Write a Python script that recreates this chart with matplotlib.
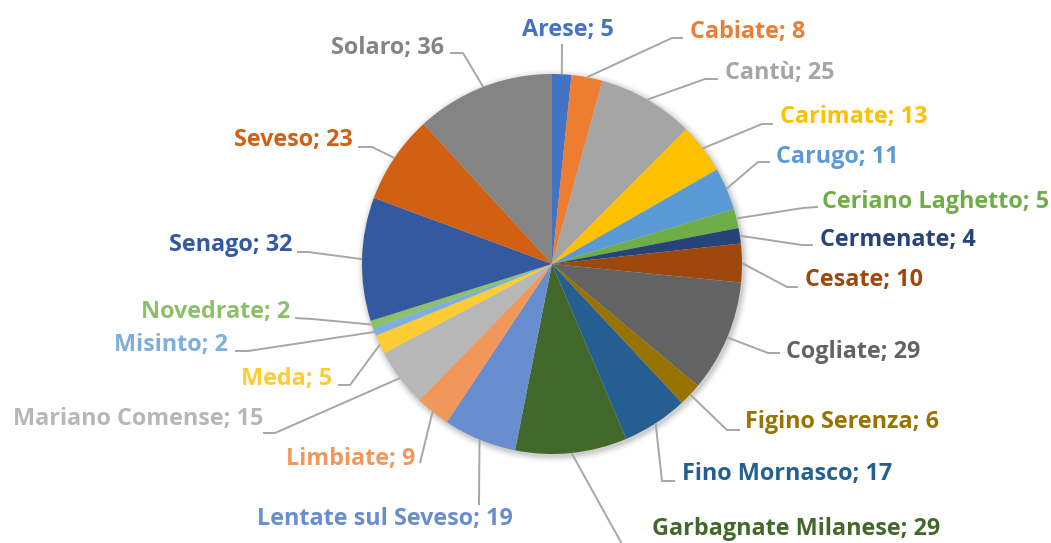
import matplotlib
matplotlib.use("Agg")
import matplotlib.pyplot as plt
import numpy as np

# ---- data ----
comuni = ["Arese", "Cabiate", "Cantù", "Carimate", "Carugo", "Ceriano Laghetto",
          "Cermenate", "Cesate", "Cogliate", "Figino Serenza", "Fino Mornasco",
          "Garbagnate Milanese", "Lentate sul Seveso", "Limbiate", "Mariano Comense",
          "Meda", "Misinto", "Novedrate", "Senago", "Seveso", "Solaro"]
valori = [5, 8, 25, 13, 11, 5, 4, 10, 29, 6, 17, 29, 19, 9, 15, 5, 2, 2, 32, 23, 36]
colori = ["#4472C4", "#ED7D31", "#A5A5A5", "#FFC000", "#5B9BD5", "#70AD47",
          "#264478", "#9E480E", "#636363", "#997300", "#255E91", "#43682B",
          "#698ED0", "#F1975A", "#B7B7B7", "#FFCC33", "#7CAFDD", "#8CC168",
          "#335AA1", "#D26012", "#848484"]

# ---- layout (pixel coords, y down) ----
W, H = 1051, 543
CX, CY, R = 552, 264, 190
TEXT_DY = 2
# text anchor (x, y, ha) and leader-line points from text toward the pie
label_layout = [
    (568, 28, "center", [(562, 44)]),
    (690, 30, "left", [(683, 38), (672, 38)]),
    (725, 71, "left", [(718, 79), (705, 79)]),
    (780, 115, "left", [(773, 124), (762, 124)]),
    (776, 155, "left", [(770, 162), (758, 162)]),
    (822, 200, "left", [(818, 207), (803, 208)]),
    (820, 238, "left", [(813, 245), (802, 245)]),
    (805, 278, "left", [(798, 287), (787, 287)]),
    (786, 350, "left", [(780, 353), (768, 353)]),
    (745, 420, "left", [(740, 430), (727, 430)]),
    (682, 472, "left", [(675, 481), (662, 481)]),
    (652, 527, "left", [(628, 555)]),
    (385, 517, "center", [(479, 505)]),
    (415, 457, "right", [(420, 463)]),
    (263, 417, "right", [(263, 433), (275, 433)]),
    (332, 377, "right", [(338, 385), (350, 385)]),
    (228, 343, "right", [(235, 351), (248, 351)]),
    (290, 310, "right", [(295, 318), (312, 319)]),
    (292, 243, "right", [(297, 252), (308, 252)]),
    (353, 138, "right", [(358, 147), (372, 147)]),
    (444, 46, "right", [(450, 53), (463, 53)]),
]
FONT = ["Open Sans", "DejaVu Sans"]
REF_LABEL, REF_WIDTH = "Garbagnate Milanese; 29", 288

def fy(y):
    return H - y

fig = plt.figure(figsize=(W / 100, H / 100), dpi=100)
ax = fig.add_axes([0, 0, 1, 1])

# fit font size so the longest label matches the reference width
probe = fig.text(0, 0, REF_LABEL, fontsize=15, fontweight="bold", family=FONT)
fig.canvas.draw()
wpx = probe.get_window_extent().width
probe.remove()
fsize = 15 * REF_WIDTH / wpx

# soft shadow
for i, a in enumerate(np.linspace(0.05, 0.01, 6)):
    c = plt.Circle((CX + 1.5, fy(CY) - 2), R + 1 + i * 1.2, color="black", alpha=a, lw=0, zorder=0)
    ax.add_patch(c)

wedges, _ = ax.pie(valori, colors=colori, startangle=90, counterclock=False,
                   center=(CX, fy(CY)), radius=R,
                   wedgeprops=dict(linewidth=0, zorder=1))
ax.set_xlim(0, W)
ax.set_ylim(0, H)
ax.set_aspect("equal")
ax.axis("off")

total = sum(valori)
cum = 0
for nome, v, col, (tx, ty, ha, pts) in zip(comuni, valori, colori, label_layout):
    mid = (cum + v / 2) / total * 2 * np.pi
    cum += v
    ax_x = CX + R * np.sin(mid)
    ax_y = CY - R * np.cos(mid)
    xs = [p[0] for p in pts] + [ax_x]
    ys = [fy(p[1]) for p in pts] + [fy(ax_y)]
    ax.plot(xs, ys, color="#A6A6A6", lw=1.4, solid_capstyle="butt", zorder=2, clip_on=True)
    ax.text(tx, fy(ty + TEXT_DY), f"{nome}; {v}", color=col, ha=ha, va="center",
            fontsize=fsize, fontweight="bold", family=FONT, zorder=3)

fig.savefig("out.png", dpi=100)
